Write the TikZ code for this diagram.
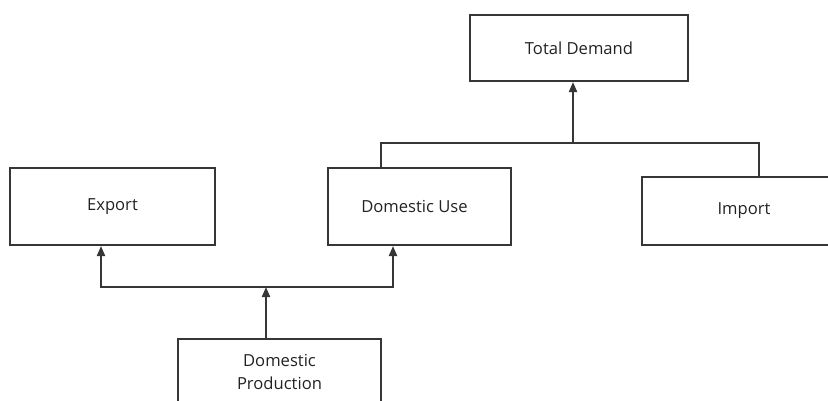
\documentclass[tikz,border=0pt]{standalone}
\usepackage{fontspec}
\setmainfont{Open Sans}
\usetikzlibrary{arrows.meta}
\definecolor{linegray}{HTML}{363636}
\definecolor{textgray}{HTML}{222222}
\begin{document}
\begin{tikzpicture}[x=1bp,y=-1bp,
  box/.style={draw=linegray, line width=2bp, rectangle, inner sep=0pt,
    align=center, text=textgray, font=\fontsize{16.6bp}{23bp}\selectfont},
  link/.style={draw=linegray, line width=2bp},
  arr/.style={link, -{Triangle[length=10bp,width=8bp]}}]
  \useasboundingbox (0,0) rectangle (828,400);
  \clip (0,0) rectangle (828,400);

  % boxes
  \node[box, minimum width=218bp, minimum height=66bp] (td) at (579,48) {Total Demand};
  \node[box, minimum width=205bp, minimum height=77bp] (ex) at (112.5,206.5) {Export};
  \node[box, minimum width=183bp, minimum height=77bp] (du) at (419.5,206.5) {\hspace*{-10bp}Domestic Use};
  \node[box, minimum width=204bp, minimum height=68bp] (im) at (744,211) {Import};
  \node[box, minimum width=203bp, minimum height=66bp] (dp) at (279.5,371.5) {Domestic\\Production};

  % junction points
  \coordinate (tj)  at (573,143);
  \coordinate (tjL) at (381,143);
  \coordinate (tjR) at (759,143);
  \coordinate (bj)  at (266,287);
  \coordinate (bjL) at (101,287);
  \coordinate (bjR) at (393,287);

  % upper connector: domestic use and import into total demand
  \draw[link] (tjL |- du.north) -- (tjL) -- (tjR) -- (tjR |- im.north);
  \draw[arr] (tj) -- (tj |- td.south);

  % lower connector: domestic production split to export and domestic use
  \draw[arr] (bj |- dp.north) -- (bj);
  \draw[arr] (bj) -- (bjL) -- (bjL |- ex.south);
  \draw[arr] (bj) -- (bjR) -- (bjR |- du.south);
\end{tikzpicture}
\end{document}
